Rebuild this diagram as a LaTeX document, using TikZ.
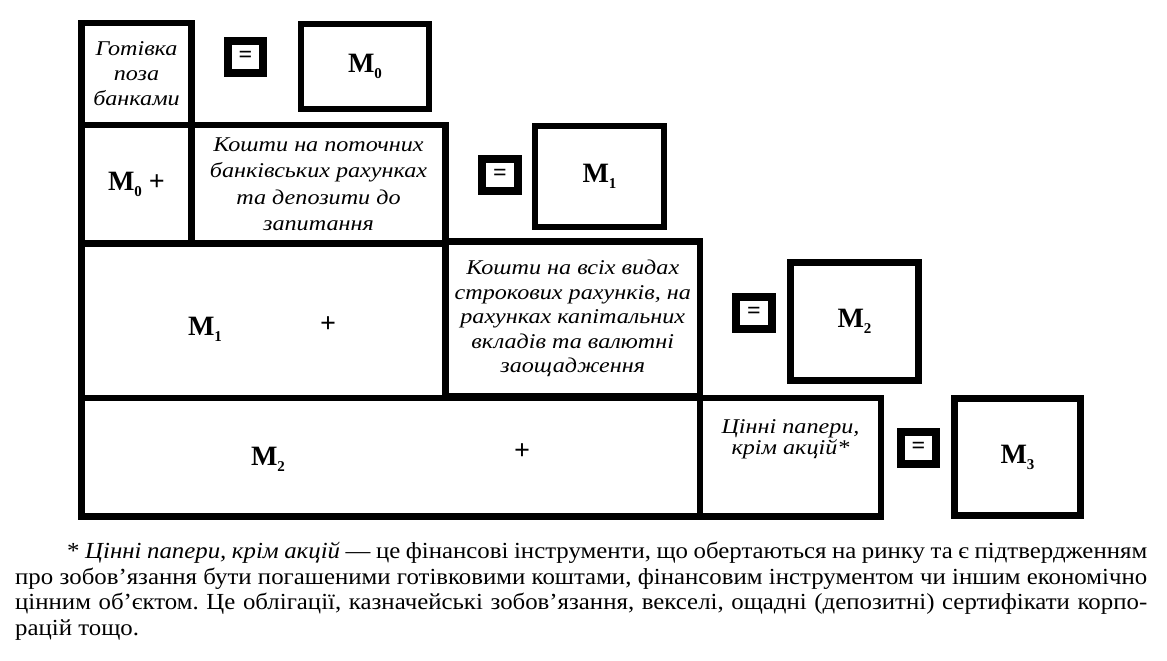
\documentclass[tikz,border=0pt]{standalone}
\usepackage{fontspec}
\setmainfont{Liberation Serif}
\newfontfamily\boxit{Liberation Serif}[FakeStretch=1.15]
\newfontfamily\notefont{Liberation Serif}[FakeStretch=1.08]
\newcommand{\Mlab}[1]{M\raisebox{-6pt}{\fontsize{15}{15}\selectfont #1}}
\tikzset{
  cell/.style={draw=black, line width=6.5pt, rectangle, inner sep=0pt, outer sep=0pt, align=center,
    font=\boxit\itshape\fontsize{21}{25}\selectfont},
  mbox/.style={draw=black, line width=6.5pt, rectangle, inner sep=0pt, outer sep=0pt,
    font=\bfseries\fontsize{28}{28}\selectfont},
  eqbox/.style={draw=black, line width=8pt, rectangle, inner sep=0pt, outer sep=0pt,
    minimum width=35.5pt, minimum height=32pt, font=\bfseries\fontsize{24}{24}\selectfont},
  mtext/.style={inner sep=0pt, font=\bfseries\fontsize{28}{28}\selectfont},
  celltext/.style={inner sep=0pt, align=center, font=\boxit\itshape\fontsize{21}{21}\selectfont},
  note/.style={inner sep=0pt, text width=1132pt, align=justify, font=\notefont\fontsize{23}{25.5}\selectfont}
}
\begin{document}
\begin{tikzpicture}[x=1pt,y=-1pt]
\useasboundingbox[fill=white] (0,0) rectangle (1167,661);
% row 1
\node[cell, minimum width=110pt, minimum height=102pt] (g) at (136.5,74) {Готівка\\поза\\банками};
\node[eqbox] (e0) at (245.5,57) {=};
\node[mbox, minimum width=128pt, minimum height=85pt] (m0) at (365,66.5) {\Mlab{0}};
% row 2
\node[cell, minimum width=110pt, minimum height=118.5pt, font=\bfseries\fontsize{28}{28}\selectfont] (r2a) at (136.5,184.25) {\Mlab{0} +};
\node[cell, minimum width=254pt, minimum height=118.5pt, font=\boxit\itshape\fontsize{21}{26.5}\selectfont] (r2b) at (318.5,184.25) {Кошти на поточних\\банківських рахунках\\та депозити до\\запитання};
\node[eqbox] (e1) at (500,175) {=};
\node[mbox, minimum width=129pt, minimum height=101pt] (m1) at (599.5,176.5) {\Mlab{1}};
% row 3
\node[cell, minimum width=364pt, minimum height=154.5pt] (r3a) at (263.5,320.75) {};
\node[mtext] (r3m) at (205,329) {\Mlab{1}};
\node[mtext] (r3p) at (328,325) {+};
\node[cell, minimum width=254.5pt, minimum height=154.5pt, font=\boxit\itshape\fontsize{21}{24.5}\selectfont] (r3b) at (572.75,318.75) {Кошти на всіх видах\\строкових рахунків, на\\рахунках капітальних\\вкладів та валютні\\заощадження};
\node[eqbox] (e2) at (754,313) {=};
\node[mbox, minimum width=128pt, minimum height=118pt] (m2) at (854.5,321.5) {\Mlab{2}};
% row 4
\node[cell, minimum width=618.5pt, minimum height=118.5pt] (r4a) at (390.75,457.25) {};
\node[mtext] (r4m) at (268,459) {\Mlab{2}};
\node[mtext] (r4p) at (522,452) {+};
\node[cell, minimum width=181pt, minimum height=118.5pt] (r4b) at (790.5,457.25) {};
\node[celltext] (r4t) at (790.5,439) {Цінні папери,\\крім акцій*};
\node[eqbox] (e3) at (918.5,448) {=};
\node[mbox, minimum width=126pt, minimum height=117pt] (m3) at (1017.5,457) {\Mlab{3}};
% footnote
\node[note, anchor=north west] (fn) at (15,542) {\frenchspacing\hspace*{52pt}* \textit{Цінні папери, крім акцій} — це фінансові інструменти, що обертаються на ринку та є підтвердженням\linebreak про зобов’язання бути погашеними готівковими коштами, фінансовим інструментом чи іншим економічно\linebreak цінним об’єктом. Це облігації, казначейські зобов’язання, векселі, ощадні (депозитні) сертифікати корпо-\linebreak рацій тощо.};
\end{tikzpicture}
\end{document}
